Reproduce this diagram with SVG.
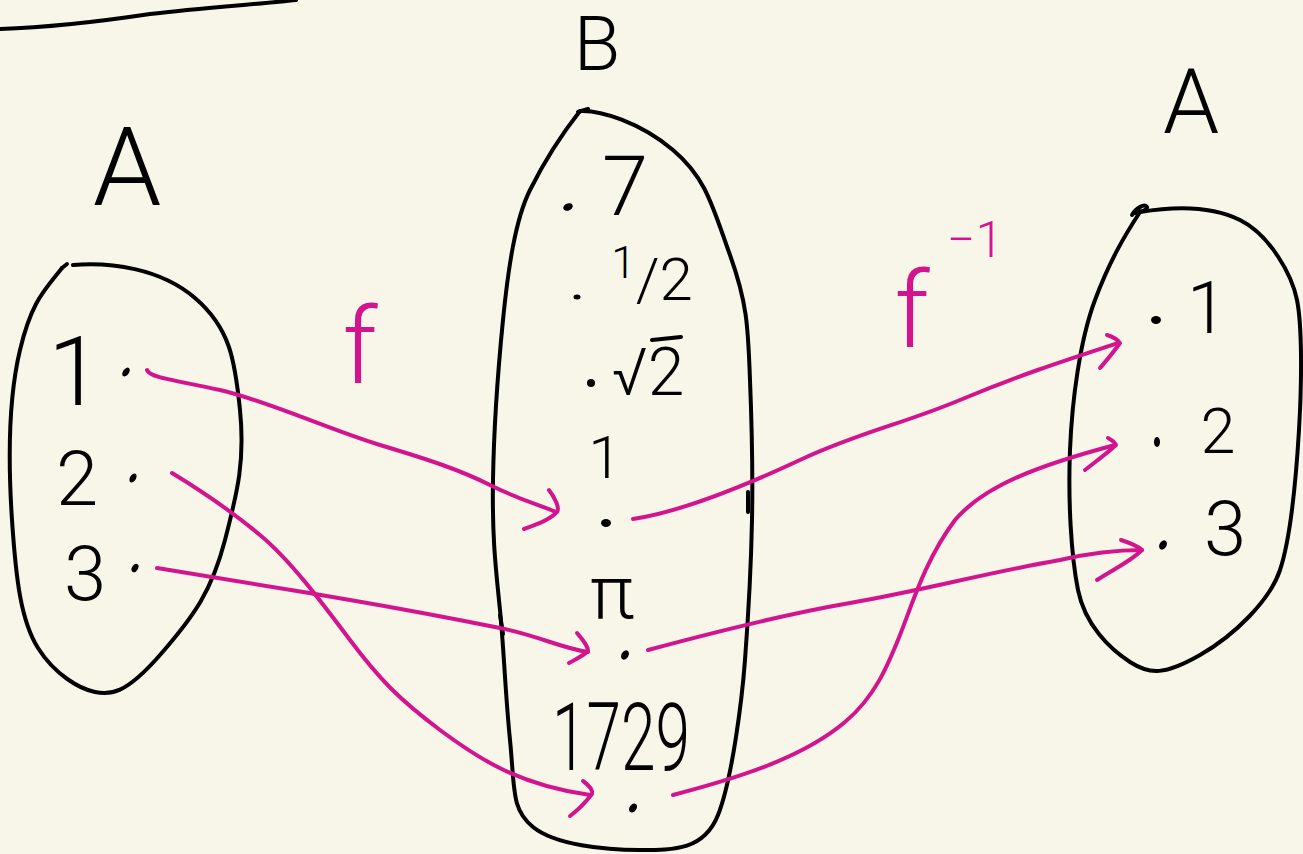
<svg xmlns="http://www.w3.org/2000/svg" width="1303" height="854" viewBox="0 0 1303 854">
<style>
.ink{fill:none;stroke:#000;stroke-width:4;stroke-linecap:round;stroke-linejoin:round}
.pk{fill:none;stroke:#D4148E;stroke-width:4;stroke-linecap:round;stroke-linejoin:round}
.t{font-family:Roboto,"Open Sans","Liberation Sans",sans-serif;font-weight:300;fill:#000;text-anchor:middle}
.tp{font-family:Roboto,"Open Sans","Liberation Sans",sans-serif;font-weight:300;fill:#D4148E;text-anchor:middle}
.dot{fill:#000}
</style>
<rect width="1303" height="854" fill="#F8F6E9"/>
<path id="top-rule" class="ink" d="M0,29 C60,27 110,20 150,14 C200,8 260,4 296,0"/>

<g id="set-A-left">
<text class="t" x="127" y="205" font-size="110">A</text>
<path class="ink" d="M62,268 L67,264"/>
<path class="ink" d="M73,265 C110,262 160,268 195,298 S235,360 240,410 S238,490 225,540 S195,615 160,655 S110,695 95,692 S55,675 38,648 S16,580 12,520 S8,400 20,350 S45,290 62,268"/>
<text class="t" x="75" y="405" font-size="97">1</text>
<text class="t" x="77" y="505" font-size="76">2</text>
<text class="t" x="85" y="600" font-size="76">3</text>
<ellipse class="dot" cx="126" cy="372" rx="3" ry="5" transform="rotate(35 126 372)"/>
<ellipse class="dot" cx="133" cy="478" rx="3" ry="5" transform="rotate(30 133 478)"/>
<ellipse class="dot" cx="135" cy="568" rx="3" ry="4.5" transform="rotate(30 135 568)"/>
</g>

<g id="set-B">
<text class="t" x="597" y="70" font-size="76">B</text>
<path class="ink" d="M578,112 L588,109"/>
<path class="ink" d="M580,111 C600,110 640,122 673,150 S712,205 730,255 S748,330 750,380 S753,470 752,520 S748,620 745,660 S732,780 718,815 S675,850 640,850 S555,845 533,827 S515,790 510,740 S504,650 500,610 S492,540 493,480 S498,370 503,320 S515,220 530,190 S565,130 580,111"/>
<path class="ink" d="M500,615 L503,634" stroke-width="5"/>
<path class="ink" d="M748,492 L748,512" stroke-width="5"/>
<ellipse class="dot" cx="568" cy="207" rx="5" ry="3.5" transform="rotate(-25 568 207)"/>
<text class="t" x="625" y="215" font-size="83">7</text>
<ellipse class="dot" cx="577" cy="297" rx="3.5" ry="2.5"/>
<text class="t" x="652" y="300" font-size="60"><tspan font-size="44" dy="-22">1</tspan><tspan dy="22">/2</tspan></text>
<ellipse class="dot" cx="591" cy="383" rx="4" ry="4"/>
<text class="t" x="648" y="395" font-size="66">√2</text>
<line class="ink" x1="652" y1="340" x2="681" y2="337"/>
<text class="t" x="605" y="478" font-size="60">1</text>
<ellipse class="dot" cx="606" cy="523" rx="5" ry="4"/>
<text class="t" x="612" y="618" font-size="75">π</text>
<ellipse class="dot" cx="625" cy="655" rx="3.5" ry="5" transform="rotate(30 625 655)"/>
<text class="t" x="621" y="770" font-size="95" textLength="138" lengthAdjust="spacingAndGlyphs">1729</text>
<ellipse class="dot" cx="633" cy="808" rx="3.5" ry="5" transform="rotate(35 633 808)"/>
</g>

<g id="set-A-right">
<text class="t" x="1191" y="133" font-size="90">A</text>
<path class="ink" d="M1132,215 C1136,208 1145,203 1147,207 C1148,210 1140,212 1135,213"/>
<path class="ink" d="M1140,212 C1170,207 1210,205 1240,220 S1292,275 1297,300 S1302,380 1299,430 S1290,540 1280,570 S1235,635 1200,655 S1150,675 1130,662 S1085,625 1078,590 S1068,500 1070,450 S1080,340 1095,300 S1125,235 1140,212"/>
<text class="t" x="1207" y="333" font-size="72">1</text>
<text class="t" x="1218" y="453" font-size="63">2</text>
<text class="t" x="1225" y="555" font-size="76">3</text>
<ellipse class="dot" cx="1156" cy="320" rx="5" ry="4"/>
<ellipse class="dot" cx="1157" cy="442" rx="3" ry="5"/>
<ellipse class="dot" cx="1163" cy="545" rx="3.5" ry="5" transform="rotate(30 1163 545)"/>
</g>

<g id="connectors">
<path class="pk" d="M147,370 C150,378 175,380 220,390 S330,430 380,445 S460,470 490,485 S540,505 556,512"/>
<path class="pk" d="M549,490 C555,498 560,508 557,512 C550,520 535,525 524,529"/>
<path class="pk" d="M172,473 C200,490 230,510 260,535 S320,600 350,640 S400,700 440,730 S520,785 590,795"/>
<path class="pk" d="M583,781 C590,786 593,791 592,794 C585,803 578,810 570,816"/>
<path class="pk" d="M157,568 C200,575 280,588 350,600 S460,620 500,628 S560,648 588,652"/>
<path class="pk" d="M577,633 C583,640 588,646 588,651 C583,656 576,659 569,663"/>
<path class="pk" d="M633,519 C680,512 740,488 800,460 S900,425 960,400 S1060,362 1118,343"/>
<path class="pk" d="M1107,335 C1113,337 1118,340 1120,343 C1113,353 1106,361 1100,368"/>
<path class="pk" d="M648,650 C700,636 780,615 850,603 S990,572 1060,560 C1090,553 1120,550 1142,550"/>
<path class="pk" d="M1121,540 C1130,543 1138,546 1142,550 C1130,562 1112,570 1097,580"/>
<path class="pk" d="M673,795 C730,780 800,760 845,722 C875,697 888,665 900,635 C912,605 925,560 955,520 C985,485 1040,465 1115,445"/>
<path class="pk" d="M1108,438 C1112,440 1115,443 1116,445 C1105,455 1095,462 1085,470"/>
<text class="tp" x="360" y="383" font-size="105">f</text>
<text class="tp" x="912" y="347" font-size="105">f</text>
<text class="tp" x="975" y="257" font-size="50">−1</text>
</g>
</svg>
